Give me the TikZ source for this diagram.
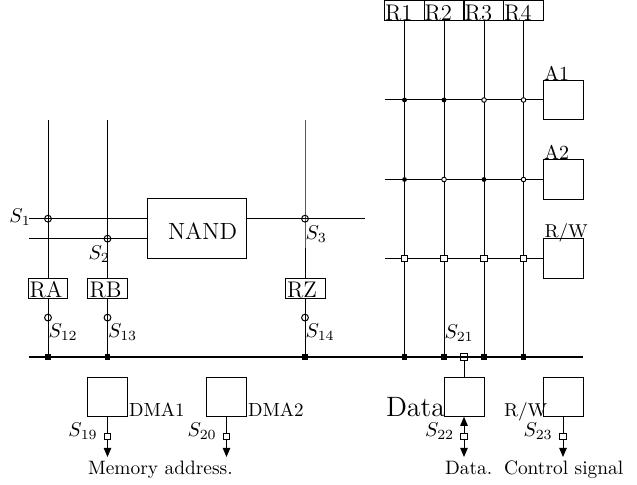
\documentclass[tikz,border=0pt]{standalone}
\usetikzlibrary{arrows.meta,backgrounds}
\newcommand{\fs}[1]{\fontsize{#1}{#1}\selectfont}
\tikzset{
  x=0.5pt,y=-0.5pt,
  wire/.style={line width=0.5pt,draw=black},
  busline/.style={line width=1.4pt},
  boxn/.style={draw=black,line width=0.5pt,fill=white,inner sep=0pt,outer sep=0pt,minimum width=#1*0.5pt,minimum height=19.8pt},
  tagbox/.style={draw=black,line width=0.5pt,fill=white,inner sep=0pt,outer sep=0pt,minimum width=19.8pt,minimum height=9.9pt},
  ring/.style={circle,draw=black,line width=0.5pt,inner sep=0pt,outer sep=0pt,minimum size=3.4pt},
  dotf/.style={circle,fill=black,inner sep=0pt,outer sep=0pt,minimum size=2.4pt},
  doto/.style={circle,draw=black,fill=white,line width=0.45pt,inner sep=0pt,outer sep=0pt,minimum size=2.3pt},
  sqo/.style={rectangle,draw=black,fill=white,line width=0.5pt,inner sep=0pt,outer sep=0pt,minimum size=3.3pt},
  sqn/.style={rectangle,draw=black,line width=0.5pt,inner sep=0pt,outer sep=0pt,minimum size=3.3pt},
  sqf/.style={rectangle,fill=black,inner sep=0pt,outer sep=0pt,minimum size=2.9pt},
  txt/.style={anchor=base west,inner sep=0pt,outer sep=0pt},
  tip/.style={-{Triangle[length=4.6pt,width=3.8pt]}},
  tips/.style={{Triangle[length=4.6pt,width=3.8pt]}-{Triangle[length=4.6pt,width=3.8pt]}},
}
\begin{document}
\begin{tikzpicture}
\useasboundingbox (0,0) rectangle (637,485);
% R boxes
\foreach \n/\x in {1/404.5,2/444,3/484,4/523.5}{
  \node[tagbox,minimum height=10pt] (R\n) at (\x,11) {};
  \node[txt,font=\fs{11.3}] at (\x-19.3,21) {R\n};
}
% junction rows
\foreach \n/\x in {1/404.5,2/444,3/484,4/523.5}{\node[sqf] (B\n) at (\x,357) {};}
\node[dotf] (J11) at (404.5,100) {};
\node[dotf] (J12) at (444,100) {};
\node[doto] (J13) at (484,100) {};
\node[doto] (J14) at (523.5,100) {};
\node[dotf] (J21) at (404.5,179.5) {};
\node[doto] (J22) at (444,179.5) {};
\node[dotf] (J23) at (484,179.5) {};
\node[doto] (J24) at (523.5,179.5) {};
\foreach \n/\x in {1/404.5,2/444,3/484,4/523.5}{\node[sqo] (J3\n) at (\x,258.5) {};}
% A boxes
\node[boxn=40] (A1) at (563,100) {};
\node[boxn=40] (A2) at (563,179.5) {};
\node[boxn=40] (RW) at (563,258.5) {};
\node[txt,font=\fs{10}] at (544,80.5) {A1};
\node[txt,font=\fs{10}] at (544,159.5) {A2};
\node[txt,font=\fs{9.3}] at (544.5,238) {R/W};
\coordinate (W1) at (385,100);
\coordinate (W2) at (385,179.5);
\coordinate (W3) at (385,258.5);
% NAND and left part
\node[draw=black,line width=0.5pt,fill=white,inner sep=0pt,outer sep=0pt,minimum width=49.75pt,minimum height=29.75pt] (NAND) at (196.75,228.75) {};
\node[txt,font=\fs{11.7}] at (168,240) {NAND};
\coordinate (T1) at (48,120);
\coordinate (T2) at (107.5,120);
\coordinate (T3) at (305,120);
\coordinate (L1) at (29,218.7);
\coordinate (L2) at (29,238.7);
\coordinate (E3) at (365,218.7);
\coordinate (N1) at (147,218.7);
\coordinate (N2) at (147,238.7);
\coordinate (N3) at (246.5,218.7);
\node[ring] (S1) at (48,218.7) {};
\node[ring] (S2) at (107.5,238.7) {};
\node[ring] (S3) at (305,218.7) {};
\node[tagbox] (RA) at (48,288.2) {};
\node[tagbox] (RB) at (107.5,288.2) {};
\node[tagbox] (RZ) at (305.5,288.2) {};
\node[txt,font=\fs{11.3}] at (29.5,298) {RA};
\node[txt,font=\fs{11.3}] at (89.5,298) {RB};
\node[txt,font=\fs{11.3}] at (287,298) {RZ};
\node[ring] (S12) at (48,317.6) {};
\node[ring] (S13) at (107.5,317.6) {};
\node[ring] (S14) at (305,317.6) {};
\node[sqf] (BA) at (48,357) {};
\node[sqf] (BB) at (107.5,357) {};
\node[sqf] (BZ) at (305,357) {};
\coordinate (BusL) at (29,357);
\coordinate (BusR) at (583,357);
\node[sqn] (S21) at (464,357) {};
% lower boxes
\node[boxn=40] (DMA1) at (107.5,397) {};
\node[boxn=40] (DMA2) at (226.5,397) {};
\node[boxn=40] (D) at (464,397) {};
\node[boxn=40] (C) at (563,397) {};
\node[sqo] (S19) at (107.5,436.5) {};
\node[sqo] (S20) at (226.5,436.5) {};
\node[sqo] (S22) at (464,436.5) {};
\node[sqo] (S23) at (563,436.5) {};
\coordinate (O19) at (107.5,457);
\coordinate (O20) at (226.5,457);
\coordinate (O22) at (464,457);
\coordinate (O23) at (563,457);
% labels
\node[txt] at (9.5,222.5) {$S_1$};
\node[txt] at (88.5,259.5) {$S_2$};
\node[txt] at (305.5,240) {$S_3$};
\node[txt] at (48.5,337.5) {$S_{12}$};
\node[txt] at (108,337.5) {$S_{13}$};
\node[txt] at (305.5,337.5) {$S_{14}$};
\node[txt] at (444.5,338.5) {$S_{21}$};
\node[txt] at (68.5,436.5) {$S_{19}$};
\node[txt] at (187.5,436.5) {$S_{20}$};
\node[txt] at (425,436.5) {$S_{22}$};
\node[txt] at (523.5,436.5) {$S_{23}$};
\node[txt,font=\fs{9.5}] at (129,416.7) {DMA1};
\node[txt,font=\fs{9.5}] at (248,416.7) {DMA2};
\node[txt,font=\fs{14}] at (386,416.7) {Data};
\node[txt,font=\fs{9.3}] at (504,416.7) {R/W};
\node[txt,font=\fs{9.7}] at (88,475) {Memory address.};
\node[txt,font=\fs{9.7}] at (445,475) {Data.};
\node[txt,font=\fs{9.7}] at (504,475) {Control signal};
\begin{scope}[on background layer]
\foreach \n in {1,2,3,4}{\draw[wire] (R\n.south) -- (B\n.center);}
\draw[wire] (W1) -- (A1.west);
\draw[wire] (W2) -- (A2.west);
\draw[wire] (W3) -- (RW.west);
\draw[wire] (T1) -- (RA.north);
\draw[wire] (T2) -- (RB.north);
\draw[wire] (T3) -- (S3.center) -- (RZ.north-|S3);
\draw[wire] (RA.south) -- (BA.center);
\draw[wire] (RB.south) -- (BB.center);
\draw[wire] (RZ.south-|S14) -- (BZ.center);
\draw[wire] (L1) -- (N1);
\draw[wire] (L2) -- (N2);
\draw[wire] (N3) -- (E3);
\draw[busline] (BusL) -- (BusR);
\draw[wire] (S21.south) -- (D.north);
\draw[wire,tip] (DMA1.south) -- (O19);
\draw[wire,tip] (DMA2.south) -- (O20);
\draw[wire,tips] (D.south) -- (O22);
\draw[wire,tip] (C.south) -- (O23);
\end{scope}
\end{tikzpicture}
\end{document}
